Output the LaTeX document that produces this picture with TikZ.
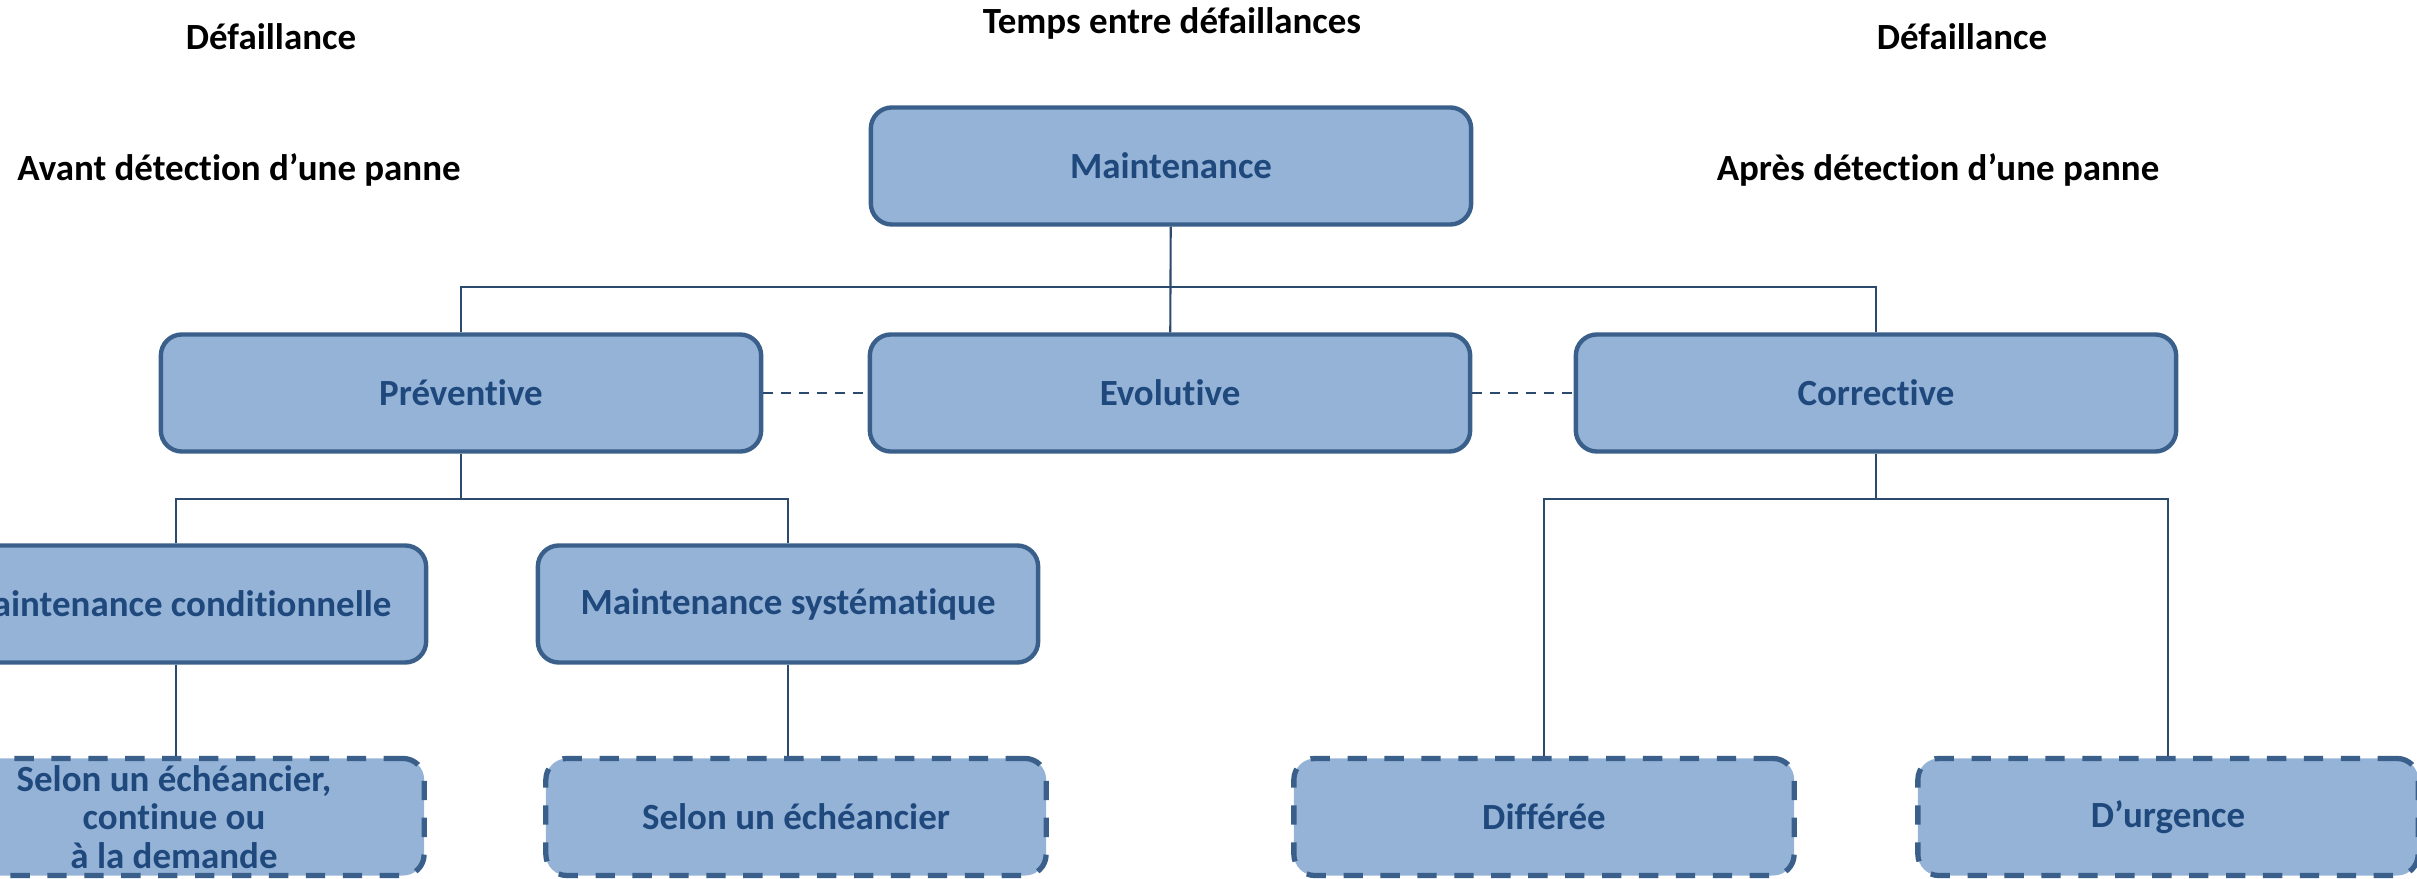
\documentclass[tikz,border=0pt]{standalone}
\usepackage{fontspec}
\setmainfont{Carlito}[Ligatures=NoCommon]
\usepackage{tikz}
\usetikzlibrary{positioning}
\definecolor{boxfill}{HTML}{95B3D7}
\definecolor{boxline}{HTML}{3A5F8B}
\definecolor{boxtext}{HTML}{1F497D}
\definecolor{linkcol}{HTML}{2C4A6E}
\tikzset{font={\fontsize{10.5pt}{11pt}\selectfont\bfseries}}

\begin{document}
\begin{tikzpicture}[x=0.01cm,y=-0.01cm,
    main node/.style={rectangle,rounded corners=6pt,draw=boxline,line width=1.25pt,
      fill=boxfill,text=boxtext,minimum width=6cm,minimum height=1.17cm,
      align=center,inner sep=0pt},
    sub node/.style={main node,minimum width=5cm},
    leaf node/.style={sub node,line width=1.5pt,dash pattern=on 5.5pt off 5pt},
    head node/.style={text=black,inner sep=0pt},
    link/.style={draw=linkcol,line width=0.6pt},
    dash link/.style={link,line width=0.8pt,dash pattern=on 2.8pt off 2.3pt}]
  \useasboundingbox (0,0) rectangle (2417,879);

  % en-tetes
  \node[head node] (hdefg) at (271,37) {Défaillance};
  \node[head node] (htemps) at (1172,23) {Temps entre défaillances};
  \node[head node] (hdefd) at (1962,37) {Défaillance};
  \node[head node] (havant) at (239,170) {Avant détection d’une panne};
  \node[head node] (hapres) at (1938,170) {Après détection d’une panne};

  % arbre
  \node[main node] (maint) at (1171,166) {Maintenance};
  \node[main node] (prev) at (461,393) {Préventive};
  \node[main node] (evol) at (1170,393) {Evolutive};
  \node[main node] (corr) at (1876,393) {Corrective};

  \node[sub node] (cond) at (176,604) {Maintenance conditionnelle};
  \node[sub node] (syst) at (788,604) {Maintenance systématique};

  \node[leaf node] (echc) at (174,817) {Selon un échéancier,\\continue ou\\à la demande};
  \node[leaf node] (ech) at (796,817) {Selon un échéancier};
  \node[leaf node] (diff) at (1544,817) {Différée};
  \node[leaf node] (urg) at (2168,817) {D’urgence};

  \coordinate (bus1) at (1171,287);
  \coordinate (bus2) at (461,499);
  \coordinate (bus3) at (1876,499);

  \draw[link] (maint) -- (evol);
  \draw[link] (prev.north) |- (bus1) -| (corr.north);
  \draw[link] (prev.south) -- (bus2);
  \draw[link] (cond.north) |- (bus2) -| (syst.north);
  \draw[link] (corr.south) -- (bus3);
  \draw[link] (diff.north) |- (bus3) -| (urg.north);
  \draw[link] (cond.south) -- (cond.south |- echc.north);
  \draw[link] (syst.south) -- (syst.south |- ech.north);
  \draw[dash link] (prev.east) -- (evol.west);
  \draw[dash link] (evol.east) -- (corr.west);
\end{tikzpicture}
\end{document}
